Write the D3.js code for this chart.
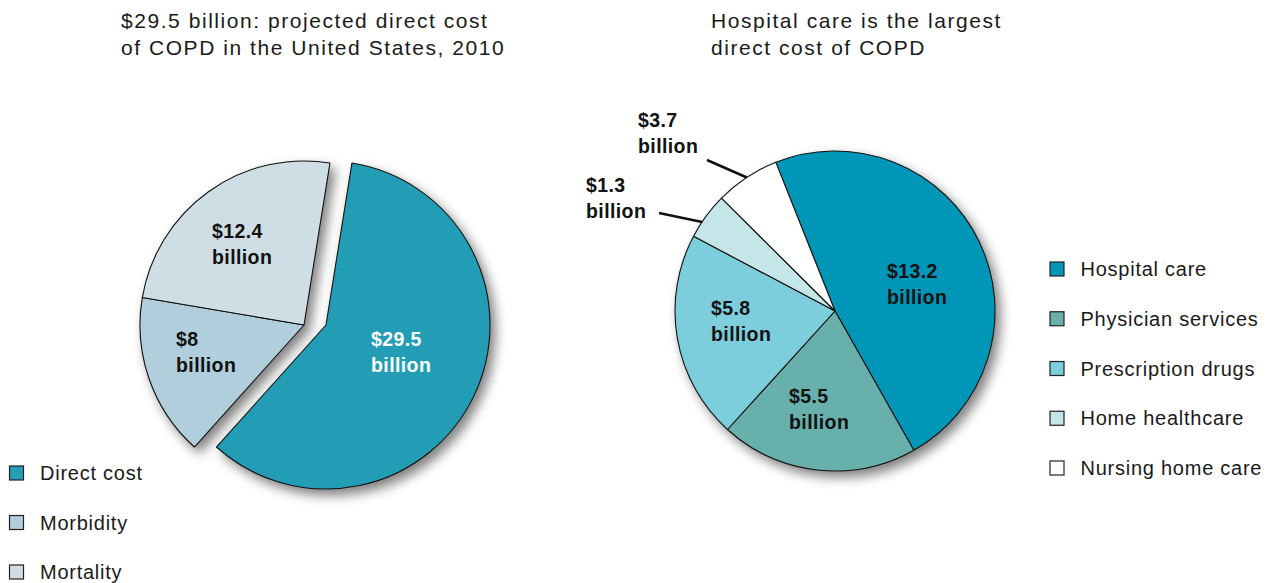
<!DOCTYPE html>
<html>
<head>
<meta charset="utf-8">
<script src="https://cdn.jsdelivr.net/npm/d3@7/dist/d3.min.js"></script>
<style>
  html, body { margin: 0; padding: 0; background: #ffffff; }
  svg { display: block; }
  text { font-family: "Liberation Sans", Arial, Helvetica, sans-serif; fill: #1a1a1a; }
</style>
</head>
<body>
<svg id="chart" width="1282" height="583"></svg>
<script>
// ---------------- DATA ----------------
const leftTitle = ["$29.5 billion: projected direct cost", "of COPD in the United States, 2010"];
const leftCategories = ["Direct cost", "Morbidity", "Mortality"];
const leftValues = [29.5, 8, 12.4];

const rightTitle = ["Hospital care is the largest", "direct cost of COPD"];
const rightCategories = ["Hospital care", "Physician services", "Prescription drugs", "Home healthcare", "Nursing home care"];
// values printed on the labels
const rightLabelValues = [13.2, 5.5, 5.8, 1.3, 3.7];
// wedge sizes as drawn in the source picture (nursing wedge measures ~1.8)
const rightWedgeValues = [13.2, 5.5, 5.8, 1.3, 1.8];

const unitWord = "billion";

// ---------------- STYLE / LAYOUT ----------------
const leftColors = ["#249db5", "#b0cedb", "#cfdee5"];
const rightColors = ["#0096b8", "#68b0ab", "#7ccedc", "#c5e6e8", "#ffffff"];
const labelColorsLeft = ["#ffffff", "#111111", "#111111"];

const svg = d3.select("#chart");
const deg = Math.PI / 180;

// drop shadow
const defs = svg.append("defs");
const f = defs.append("filter").attr("id", "shadow")
  .attr("x", "-20%").attr("y", "-20%").attr("width", "150%").attr("height", "150%");
f.append("feGaussianBlur").attr("in", "SourceAlpha").attr("stdDeviation", 6).attr("result", "b");
f.append("feOffset").attr("in", "b").attr("dx", 5).attr("dy", 6).attr("result", "o");
f.append("feComponentTransfer").attr("in", "o").attr("result", "s")
  .append("feFuncA").attr("type", "linear").attr("slope", 0.5);
const m = f.append("feMerge");
m.append("feMergeNode").attr("in", "s");
m.append("feMergeNode").attr("in", "SourceGraphic");

// titles
function title(lines, x) {
  const t = svg.append("text").attr("x", x).attr("y", 27.5)
    .style("font-size", "21px").style("letter-spacing", "1.55px");
  lines.forEach((l, i) => t.append("tspan").attr("x", x).attr("dy", i === 0 ? 0 : 27).text(l));
}
title(leftTitle, 121);
title(rightTitle, 711);

// two-line bold label
function label(g, x, yCenter, value, color) {
  const t = g.append("text").attr("x", x).attr("y", yCenter + 7)
    .style("font-size", "19.5px").style("font-weight", "bold").style("letter-spacing", "0.4px")
    .style("fill", color);
  t.append("tspan").attr("x", x).text("$" + value);
  t.append("tspan").attr("x", x).attr("dy", 25.5).text(unitWord);
}

// ---------------- LEFT PIE ----------------
const L = { cx: 304, cy: 325, r: 164, start: 9.1 * deg, explode: [22, 0] };
const leftPie = d3.pie().sort(null).value(d => d)
  .startAngle(L.start).endAngle(L.start + 2 * Math.PI)(leftValues);
const leftArc = d3.arc().innerRadius(0).outerRadius(L.r);
const gL = svg.append("g").attr("transform", `translate(${L.cx},${L.cy})`);
const gLs = gL.append("g").attr("filter", "url(#shadow)");
gLs.selectAll("path").data(leftPie).join("path")
  .attr("d", leftArc)
  .attr("transform", (d, i) => i === 0 ? `translate(${L.explode[0]},${L.explode[1]})` : null)
  .attr("fill", (d, i) => leftColors[i])
  .attr("stroke", "#111").attr("stroke-width", 1.1).attr("stroke-linejoin", "round");
const leftLabelPos = [[67, 14], [-128, 14], [-92, -94]];
leftValues.forEach((v, i) => label(gL, leftLabelPos[i][0], leftLabelPos[i][1], v, labelColorsLeft[i]));

// ---------------- RIGHT PIE ----------------
const R = { cx: 835, cy: 311, r: 160, start: -21.7 * deg };
const rightPie = d3.pie().sort(null).value(d => d)
  .startAngle(R.start).endAngle(R.start + 2 * Math.PI)(rightWedgeValues);
const rightArc = d3.arc().innerRadius(0).outerRadius(R.r);
const gR = svg.append("g").attr("transform", `translate(${R.cx},${R.cy})`);
gR.append("g").attr("filter", "url(#shadow)")
  .selectAll("path").data(rightPie).join("path")
  .attr("d", rightArc)
  .attr("fill", (d, i) => rightColors[i])
  .attr("stroke", "#111").attr("stroke-width", 1.1).attr("stroke-linejoin", "round");

const rightLabelPos = [[52, -40], [-46, 85], [-124, -3], [-249, -126], [-197, -191]];
rightLabelValues.forEach((v, i) => label(gR, rightLabelPos[i][0], rightLabelPos[i][1], v, "#111111"));

// leader lines for the small slices: [slice index, fraction along slice, outer start point]
const leaders = [[4, 0.5, [-128, -151]], [3, 0.35, [-176, -98]]];
leaders.forEach(([i, frac, p]) => {
  const d = rightPie[i];
  const a = d.startAngle + (d.endAngle - d.startAngle) * frac;
  const ex = R.r * Math.sin(a), ey = -R.r * Math.cos(a);
  gR.append("line").attr("x1", p[0]).attr("y1", p[1]).attr("x2", ex).attr("y2", ey)
    .attr("stroke", "#111").attr("stroke-width", 2.5);
});

// ---------------- LEGENDS ----------------
function legend(cats, colors, x, y0, step) {
  const g = svg.append("g");
  cats.forEach((c, i) => {
    const y = y0 + i * step;
    g.append("rect").attr("x", x).attr("y", y - 7).attr("width", 14).attr("height", 14)
      .attr("fill", colors[i]).attr("stroke", "#222").attr("stroke-width", 1.2);
    g.append("text").attr("x", x + 30.5).attr("y", y + 7)
      .style("font-size", "20px").style("letter-spacing", "0.75px").text(c);
  });
}
legend(leftCategories, leftColors, 9.5, 473, 49.5);
legend(rightCategories, rightColors, 1050, 269, 49.75);
</script>
</body>
</html>
